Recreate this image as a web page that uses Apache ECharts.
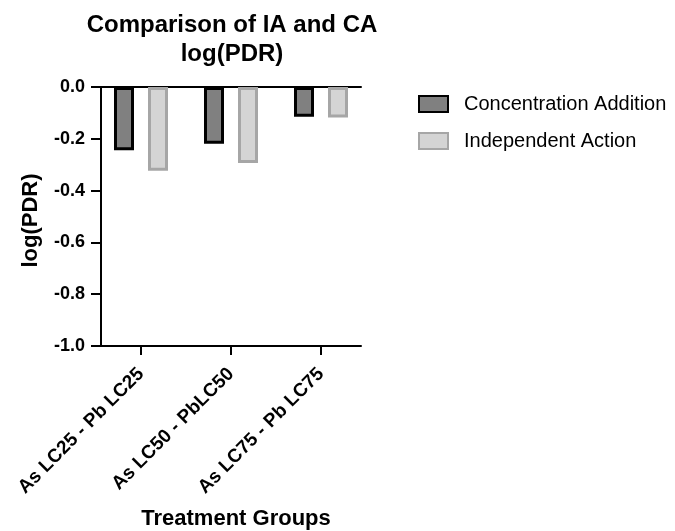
<!DOCTYPE html>
<html>
<head>
<meta charset="utf-8">
<script src="https://cdn.jsdelivr.net/npm/echarts@6/dist/echarts.min.js"></script>
<style>html,body{margin:0;padding:0;background:#fff}#c{width:675px;height:531px}</style>
</head>
<body>
<div id="c"></div>
<script>
const categories = ['As LC25 - Pb LC25', 'As LC50 - PbLC50', 'As LC75 - Pb LC75'];
const caValues = [-0.245, -0.22, -0.115];
const iaValues = [-0.325, -0.295, -0.118];
const seriesNames = ['Concentration Addition', 'Independent Action'];
const yTicks = { min: -1.0, max: 0.0, interval: 0.2 };

const FONT = 'Liberation Sans, Arial, sans-serif';
const chart = echarts.init(document.getElementById('c'), null, { renderer: 'canvas' });
chart.setOption({
  backgroundColor: '#ffffff',
  animation: false,
  title: {
    text: 'Comparison of IA and CA\nlog(PDR)',
    left: 227, top: 6, textAlign: 'center',
    textStyle: { fontFamily: FONT, fontSize: 24, fontWeight: 'bold', color: '#000', lineHeight: 29 }
  },
  legend: {
    orient: 'vertical', left: 413, top: 89,
    itemWidth: 29, itemHeight: 16, itemGap: 17,
    icon: 'rect',
    textStyle: { fontFamily: FONT, fontSize: 20, color: '#000', padding: [0, 0, 0, 11], lineHeight: 20 },
    data: seriesNames
  },
  grid: [
    { left: 96, top: 87, width: 270, height: 259 },
    { left: 101, top: 87, width: 260, height: 259 }
  ],
  xAxis: [
    {
      type: 'category', gridIndex: 0, data: categories, position: 'bottom',
      axisLine: { show: false, onZero: false },
      axisTick: { show: true, alignWithLabel: true, length: 10, lineStyle: { color: '#000', width: 2 } },
      axisLabel: { rotate: 45, margin: 26, fontFamily: FONT, fontSize: 19, fontWeight: 'bold', color: '#000' },
      name: 'Treatment Groups', nameLocation: 'middle', nameGap: 163,
      nameTextStyle: { fontFamily: FONT, fontSize: 22, fontWeight: 'bold', color: '#000', padding: [0, 0, 0, 10] }
    },
    {
      type: 'value', gridIndex: 1, min: 0, max: 1, position: 'bottom',
      axisLine: { show: true, onZero: false, lineStyle: { color: '#000', width: 2 } },
      axisTick: { show: false }, axisLabel: { show: false }, splitLine: { show: false }
    },
    {
      type: 'value', gridIndex: 1, min: 0, max: 1, position: 'top',
      axisLine: { show: true, onZero: false, lineStyle: { color: '#000', width: 2 } },
      axisTick: { show: false }, axisLabel: { show: false }, splitLine: { show: false }
    }
  ],
  yAxis: [
    { type: 'value', gridIndex: 0, min: yTicks.min, max: yTicks.max, interval: yTicks.interval, show: false },
    {
      type: 'value', gridIndex: 1, min: yTicks.min, max: yTicks.max, interval: yTicks.interval,
      axisLine: { show: true, onZero: false, lineStyle: { color: '#000', width: 2 } },
      axisTick: { show: true, length: 10, lineStyle: { color: '#000', width: 2 } },
      axisLabel: { margin: 16, fontFamily: FONT, fontSize: 18, fontWeight: 'bold', color: '#000',
        formatter: v => v.toFixed(1) },
      splitLine: { show: false },
      name: 'log(PDR)', nameLocation: 'middle', nameGap: 59,
      nameTextStyle: { fontFamily: FONT, fontSize: 22, fontWeight: 'bold', color: '#000', padding: [0, 8, 0, 0] }
    }
  ],
  series: [
    {
      name: seriesNames[0], type: 'bar', xAxisIndex: 0, yAxisIndex: 0, data: caValues,
      barWidth: 20, barGap: '70%',
      itemStyle: { color: '#808080', borderColor: '#000000', borderWidth: 3 }
    },
    {
      name: seriesNames[1], type: 'bar', xAxisIndex: 0, yAxisIndex: 0, data: iaValues,
      barWidth: 20, barGap: '70%',
      itemStyle: { color: '#d4d4d4', borderColor: '#a6a6a6', borderWidth: 3 }
    }
  ]
});
</script>
</body>
</html>
